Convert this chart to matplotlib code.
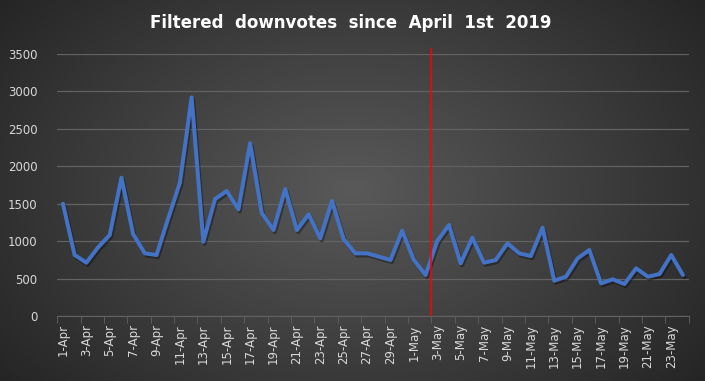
import numpy as np
import matplotlib.pyplot as plt
from matplotlib import patheffects as pe

# daily filtered downvotes, 1-Apr .. 24-May 2019
days_apr = list(range(1, 31))
days_may = list(range(1, 25))
labels = [f"{d}-Apr" for d in days_apr] + [f"{d}-May" for d in days_may]
votes = [1500, 815, 712, 917, 1082, 1848, 1095, 837, 815, 1305,
         1781, 2921, 993, 1563, 1670, 1425, 2307, 1372, 1149, 1697,
         1149, 1359, 1038, 1536, 1024, 837, 837, 793, 748, 1140,
         748, 548, 1002, 1216, 704, 1046, 712, 748, 971, 837,
         801, 1180, 472, 525, 770, 882, 436, 490, 427, 637,
         525, 561, 815, 548]
marker_day = "3-May"  # red line drawn just before this day

fig = plt.figure(figsize=(7.05, 3.81), dpi=100)

# radial dark-grey background
bg = fig.add_axes([0, 0, 1, 1], zorder=-1)
yy, xx = np.mgrid[-1:1:381j, -1:1:705j]
r = np.sqrt((xx * 0.95) ** 2 + (yy * 0.75) ** 2)
shade = 0.35 - 0.22 * np.clip(r, 0, 1.3) / 1.3
bg.imshow(np.dstack([shade] * 3), aspect="auto", extent=[0, 1, 0, 1])
bg.axis("off")

ax = fig.add_axes([0.081, 0.1706, 0.896, 0.6876])
ax.patch.set_alpha(0)
x = np.arange(len(votes))
ax.plot(x, votes, color="#4472C4", lw=2.9, solid_joinstyle="round",
        solid_capstyle="round",
        path_effects=[pe.SimpleLineShadow(offset=(1, -1.5), alpha=0.35), pe.Normal()])

ax.axvline(labels.index(marker_day) - 0.5, ymin=0, ymax=1.02, color="#FF0000",
           lw=1.1, clip_on=False)

ax.set_xlim(-0.5, len(votes) - 0.5)
ax.set_ylim(0, 3500)
ax.set_yticks(range(0, 3501, 500))
ax.grid(axis="y", color="#626262", lw=0.9)
ax.set_axisbelow(True)

ax.set_xticks(x[::2])
ax.set_xticklabels(labels[::2], rotation=90)
ax.set_xticks(np.arange(-0.5, len(votes), 2), minor=True)
ax.tick_params(axis="x", which="major", length=0, pad=6, colors="#D9D9D9", labelsize=8.5)
ax.tick_params(axis="x", which="minor", length=5, color="#626262", direction="out")
ax.tick_params(axis="y", length=0, pad=14, colors="#D9D9D9", labelsize=8.5)
for s in ["top", "right", "left"]:
    ax.spines[s].set_visible(False)
ax.spines["bottom"].set_color("#626262")

fig.text(0.497, 0.94, "Filtered  downvotes  since  April  1st  2019", color="white",
         fontsize=12, fontweight="bold", ha="center", va="center")

fig.savefig("out.png", dpi=100)
